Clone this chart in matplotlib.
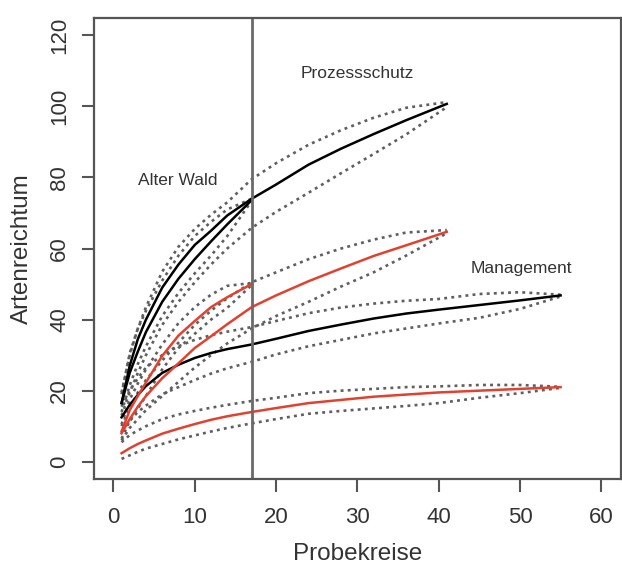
import matplotlib
matplotlib.use("Agg")
import matplotlib.pyplot as plt

x_aw = [1, 2, 3, 4, 6, 8, 10, 12, 14, 17]
x_p = [1, 2, 3, 4, 6, 8, 10, 12, 14, 17, 20, 24, 28, 32, 36, 41]
x_m = [1, 2, 3, 4, 6, 8, 10, 12, 14, 17, 20, 24, 28, 32, 36, 40, 45, 50, 55]

# Alter Wald
aw_blk = [16.5, 25, 31, 36.5, 45, 51.5, 57, 62, 66.8, 73.6]
aw_blk_up = [19, 30.5, 37.5, 42.5, 51, 58, 63.5, 67.5, 71, 74]
aw_blk_lo = [14, 21.5, 27.5, 32.5, 41, 47.5, 53, 58, 63.5, 73.4]
aw_red = [8.5, 14.5, 18.5, 22.3, 29.8, 35.5, 39.6, 43.5, 46.3, 50]
aw_red_up = [10.5, 17.5, 22, 26, 33, 39, 43.5, 47, 49.5, 50.3]
aw_red_lo = [6.5, 11.5, 15, 18.5, 26, 32, 36, 40, 43.3, 49.7]

# Prozessschutz
p_blk = [16.5, 27, 34.5, 40, 49, 55.5, 61, 65, 69.3, 74, 78, 83.6, 88.1, 92.2, 96.1, 100.7]
p_blk_up = [19.5, 30, 37.5, 43.5, 53.5, 60.5, 65.5, 69.5, 73, 79.5, 84, 89.2, 93.3, 96.8, 99.6, 101.2]
p_blk_lo = [13, 19.5, 25, 30, 38.5, 45, 50.5, 55.5, 60, 65.8, 70.3, 75.7, 81.2, 86.6, 92.1, 99.8]
p_red = [8, 12, 15.5, 18.5, 23.5, 27.7, 32, 35.3, 38.7, 43.5, 46.8, 50.8, 54.4, 57.9, 60.9, 64.7]
p_red_up = [10, 15, 19.5, 23, 28.5, 33.5, 38.5, 42.5, 46, 50.5, 53.3, 57, 60, 62.5, 64.5, 65.2]
p_red_lo = [6, 9.5, 12, 14.5, 18.5, 22.5, 26.5, 30, 33.3, 37.5, 41, 45, 49.3, 53.3, 58, 64.3]

# Management
m_blk = [12.5, 16, 18.8, 21.3, 25, 27.3, 29.2, 30.6, 31.7, 33, 34.6, 36.8, 38.6, 40.3, 41.7, 42.8, 44.1, 45.4, 46.8]
m_blk_up = [15.5, 20, 23.5, 26.5, 30, 32.5, 34.3, 35.6, 36.6, 37.9, 39.6, 41.8, 43.4, 44.5, 45.3, 45.8, 47.2, 47.7, 47]
m_blk_lo = [8.5, 11.5, 14, 15.8, 19, 21, 23, 24.8, 26.3, 28.1, 30.2, 32.5, 34.3, 36.1, 37.5, 38.9, 40.5, 43, 46.5]
m_red = [2.4, 3.8, 5, 6, 7.9, 9.3, 10.6, 11.8, 12.8, 14, 15.1, 16.5, 17.4, 18.3, 18.9, 19.5, 20, 20.5, 21]
m_red_up = [5.5, 7.5, 8.8, 10, 12, 13.3, 14.3, 15.2, 16, 17.1, 18, 19.3, 20, 20.5, 21, 21.2, 21.6, 21.6, 21.1]
m_red_lo = [0.8, 1.8, 2.8, 3.7, 5, 6.3, 7.4, 8.5, 9.5, 10.8, 12, 13.5, 14.3, 15, 15.7, 16.5, 18, 19.3, 20.8]

RED = "#e2412f"
DOT = "#5f5f5f"
AXC = "#555555"
TXT = "#333333"

plt.rcParams["font.family"] = ["Liberation Sans", "DejaVu Sans"]

fig = plt.figure(figsize=(6.22, 5.70), dpi=100)
ax = fig.add_axes([0.151, 0.160, 0.847, 0.808])

dot_kw = dict(color=DOT, linewidth=1.9, linestyle=(0, (1.1, 1.6)))
for xs, ys in [(x_aw, aw_blk_up), (x_aw, aw_blk_lo), (x_aw, aw_red_up), (x_aw, aw_red_lo),
               (x_p, p_blk_up), (x_p, p_blk_lo), (x_p, p_red_up), (x_p, p_red_lo),
               (x_m, m_blk_up), (x_m, m_blk_lo), (x_m, m_red_up), (x_m, m_red_lo)]:
    ax.plot(xs, ys, **dot_kw)

for xs, ys, c in [(x_aw, aw_blk, "black"), (x_p, p_blk, "black"), (x_m, m_blk, "black"),
                  (x_aw, aw_red, RED), (x_p, p_red, RED), (x_m, m_red, RED)]:
    ax.plot(xs, ys, color=c, linewidth=1.8)

ax.axvline(17, color="#6a6a6a", linewidth=2)

ax.text(7.9, 79, "Alter Wald", fontsize=12.5, color=TXT, ha="center", va="center")
ax.text(30, 109.3, "Prozessschutz", fontsize=12.5, color=TXT, ha="center", va="center")
ax.text(50.2, 54.4, "Management", fontsize=12.5, color=TXT, ha="center", va="center")

ax.set_xlim(-2.4, 62.4)
ax.set_ylim(-4.8, 124.8)
ax.set_xticks(range(0, 61, 10))
ax.set_yticks(range(0, 121, 20))
for lab in ax.get_yticklabels():
    lab.set_rotation(90)
    lab.set_va("center")
ax.tick_params(direction="out", length=9, width=1.5, color=AXC, labelsize=16, labelcolor=TXT)
ax.tick_params(axis="x", pad=11)
ax.tick_params(axis="y", pad=8)
for s in ax.spines.values():
    s.set_color(AXC)
    s.set_linewidth(1.6)

ax.set_xlabel("Probekreise", fontsize=17.5, color=TXT, labelpad=11)
ax.set_ylabel("Artenreichtum", fontsize=17.5, color=TXT, labelpad=12)

plt.savefig("out.png", dpi=100)
